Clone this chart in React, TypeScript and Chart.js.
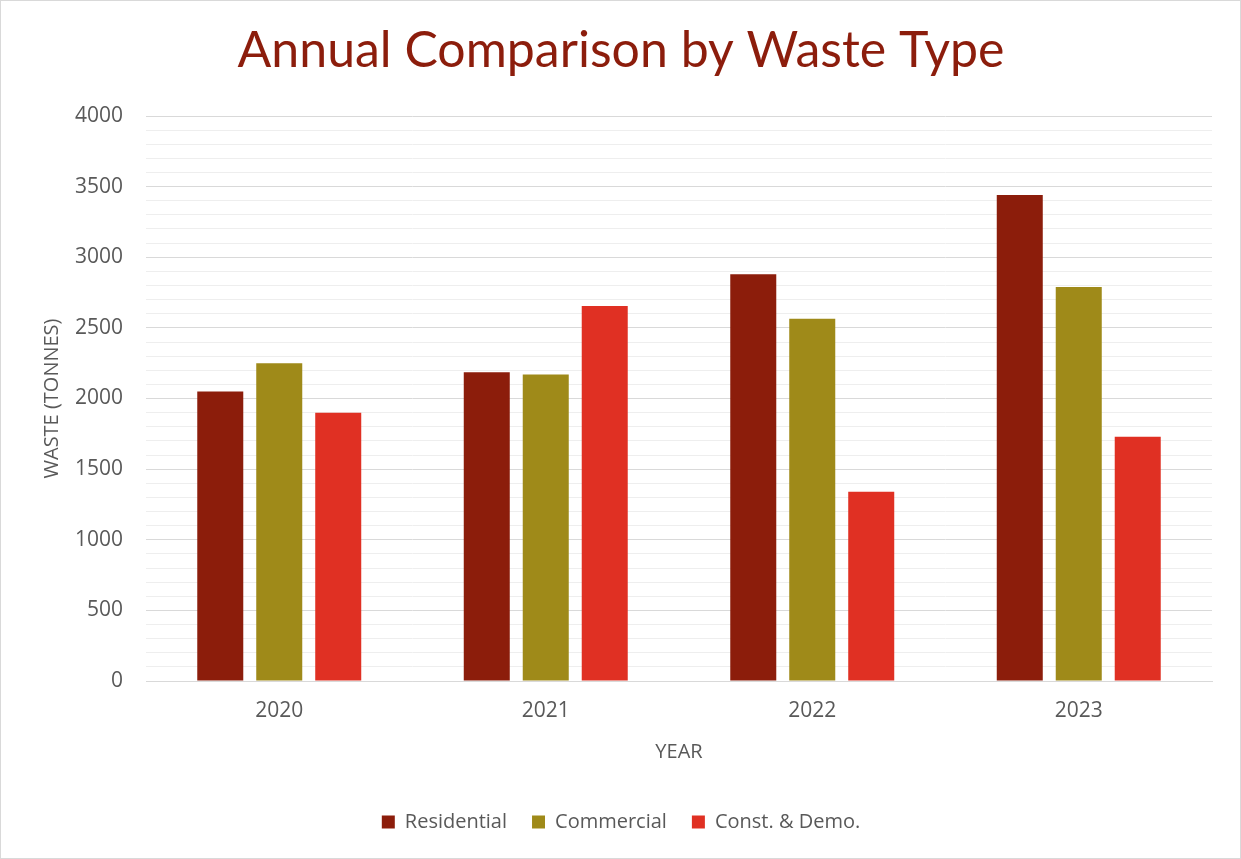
import React, { useEffect, useRef } from "react";
import { Chart, registerables } from "chart.js";

Chart.register(...registerables);

const years = ["2020", "2021", "2022", "2023"];
const seriesNames = ["Residential", "Commercial", "Const. & Demo."];
const residential = [2050, 2185, 2880, 3440];
const commercial = [2250, 2170, 2565, 2790];
const constDemo = [1900, 2655, 1340, 1730];
const seriesColors = ["#8C1D0B", "#9F8A19", "#E03023"];
const yMax = 4000;
const yMinorStep = 100;
const yMajorStep = 500;

const TEXT = "#595959";
const FONT = "'Open Sans', sans-serif";

export default function App() {
  const ref = useRef<HTMLCanvasElement>(null);

  useEffect(() => {
    const values = [residential, commercial, constDemo];
    const chart = new Chart(ref.current as HTMLCanvasElement, {
      type: "bar",
      data: {
        labels: years,
        datasets: seriesNames.map((name, i) => ({
          label: name,
          data: values[i],
          backgroundColor: seriesColors[i],
          borderWidth: 0,
          categoryPercentage: 0.664,
          barPercentage: 0.78,
        })),
      },
      options: {
        responsive: false,
        animation: false,
        layout: { padding: { left: 29, right: 28, top: 0, bottom: 16 } },
        plugins: {
          title: {
            display: true,
            text: "Annual Comparison by Waste Type",
            color: "#8C1D0C",
            font: { family: "Lato, sans-serif", size: 50, weight: "normal", lineHeight: 1.2 },
            padding: { top: 20, bottom: 35 },
          },
          legend: {
            position: "bottom",
            labels: {
              color: TEXT,
              font: { family: FONT, size: 20 },
              boxWidth: 13,
              boxHeight: 13,
              padding: 25,
            },
          },
          tooltip: { enabled: false },
        },
        scales: {
          x: {
            grid: { display: false, drawTicks: false },
            border: { display: true, color: "#d9d9d9" },
            ticks: { color: TEXT, font: { family: FONT, size: 21 }, padding: 17 },
            title: {
              display: true,
              text: "YEAR",
              color: TEXT,
              font: { family: FONT, size: 20, lineHeight: 1.2 },
              padding: { top: 0, bottom: 23 },
            },
            afterFit: (scale: any) => {
              scale.height = 106;
            },
          },
          y: {
            min: 0,
            max: yMax,
            grid: {
              drawTicks: false,
              color: (ctx: any) =>
                ctx.tick && ctx.tick.value % yMajorStep === 0 ? "#d9d9d9" : "#eeeeee",
              lineWidth: 1,
            },
            border: { display: false },
            ticks: {
              stepSize: yMinorStep,
              autoSkip: false,
              color: TEXT,
              font: { family: FONT, size: 21 },
              padding: 23,
              callback: (v: any) => (Number(v) % yMajorStep === 0 ? String(v) : ""),
            },
            title: {
              display: true,
              text: "WASTE (TONNES)",
              color: TEXT,
              font: { family: FONT, size: 20, lineHeight: 1.2 },
              padding: { top: 10, bottom: 0 },
            },
            afterFit: (scale: any) => {
              scale.width = 116;
            },
          },
        },
      },
    });
    return () => chart.destroy();
  }, []);

  return (
    <div
      style={{
        position: "fixed",
        left: 0,
        top: 0,
        width: 1241,
        height: 859,
        boxSizing: "border-box",
        border: "1px solid #d9d9d9",
        background: "#ffffff",
      }}
    >
      <canvas ref={ref} width={1239} height={857} style={{ display: "block" }} />
    </div>
  );
}
